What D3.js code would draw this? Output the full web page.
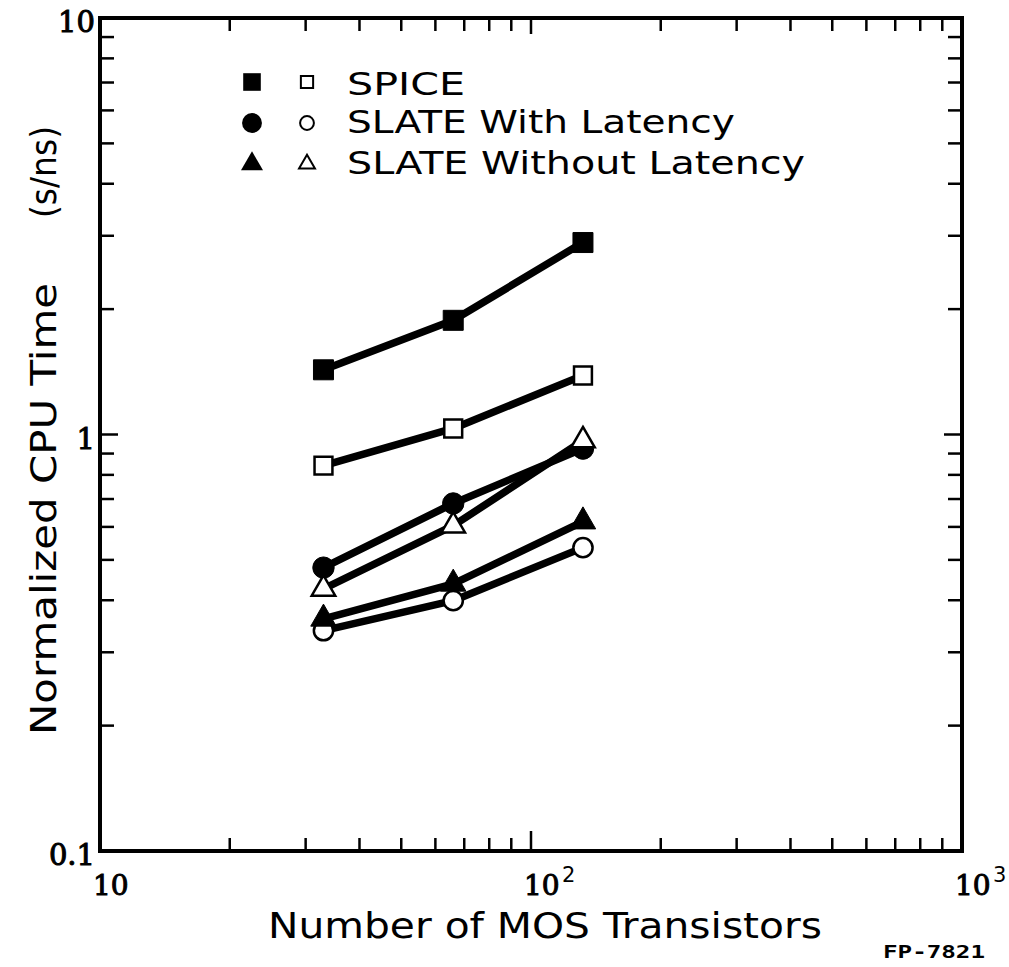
<!DOCTYPE html>
<html>
<head>
<meta charset="utf-8">
<script src="https://cdn.jsdelivr.net/npm/d3@7"></script>
<style>
  html, body { margin: 0; padding: 0; background: #fff; }
  svg { display: block; }
</style>
</head>
<body>
<svg id="chart" width="1009" height="967"></svg>
<script>
// ---- data ----
const transistors = [33, 66, 132];
const spiceFilled = [1.43, 1.88, 2.89];
const spiceOpen = [0.842, 1.034, 1.386];
const latencyFilled = [0.479, 0.683, 0.925];
const latencyOpen = [0.338, 0.399, 0.535];
const noLatencyFilled = [0.361, 0.438, 0.618];
const noLatencyOpen = [0.426, 0.604, 0.967];

const legendLabels = ["SPICE", "SLATE With Latency", "SLATE Without Latency"];
const yTickLabels = ["0.1", "1", "10"];
const xTickLabels = ["10", "10", "10"];
const xTickExponents = ["", "2", "3"];
const xTitle = "Number of MOS Transistors";
const yTitle = "Normalized CPU Time";
const yUnit = "(s/ns)";
const figureCode = "FP-7821";

// ---- layout ----
const svg = d3.select("#chart");
const mLeft = 100, mRight = 962, mTop = 18, mBottom = 851;

const x = d3.scaleLog().domain([10, 1000]).range([mLeft, mRight]);
const y = d3.scaleLog().domain([0.1, 10]).range([mBottom, mTop]);

const ink = "#000";

const xMinor = [];
[10, 100].forEach(d => { for (let k = 2; k <= 9; k++) xMinor.push(d * k); });
const yMinor = [];
[0.1, 1].forEach(d => { for (let k = 2; k <= 9; k++) yMinor.push(+(d * k).toFixed(2)); });

const g = svg.append("g");

const tickW = 2.5;
function hTicks(vals, len, yPos, dir) {
  g.selectAll(null).data(vals).enter().append("line")
    .attr("x1", d => x(d)).attr("x2", d => x(d))
    .attr("y1", yPos).attr("y2", yPos + dir * len)
    .attr("stroke", ink).attr("stroke-width", tickW);
}
function vTicks(vals, len, xPos, dir) {
  g.selectAll(null).data(vals).enter().append("line")
    .attr("y1", d => y(d)).attr("y2", d => y(d))
    .attr("x1", xPos).attr("x2", xPos + dir * len)
    .attr("stroke", ink).attr("stroke-width", tickW);
}
hTicks(xMinor, 13, mBottom, -1);
hTicks([100], 20, mBottom, -1);
hTicks(xMinor, 13, mTop, 1);
hTicks([100], 16, mTop, 1);
vTicks(yMinor, 14, mLeft, 1);
vTicks([1], 18, mLeft, 1);
vTicks(yMinor, 14, mRight, -1);
vTicks([1], 18, mRight, -1);

g.append("rect")
  .attr("x", mLeft).attr("y", mTop)
  .attr("width", mRight - mLeft).attr("height", mBottom - mTop)
  .attr("fill", "none").attr("stroke", ink).attr("stroke-width", 4);

const tickFont = "'DejaVu Serif', serif";
g.selectAll(null).data([0.1, 1, 10]).enter().append("text")
  .attr("x", mLeft - 5).attr("y", d => y(d) + 14)
  .attr("text-anchor", "end")
  .attr("font-family", tickFont).attr("font-size", 29)
  .attr("stroke", ink).attr("stroke-width", 1)
  .attr("fill", ink)
  .text((d, i) => yTickLabels[i]);

const xTicksAt = [10, 100, 1000];
g.selectAll(null).data(xTicksAt).enter().append("text")
  .attr("x", d => x(d) - 7).attr("y", 895)
  .attr("font-family", tickFont).attr("font-size", 28)
  .attr("stroke", ink).attr("stroke-width", 1)
  .attr("fill", ink)
  .text((d, i) => xTickLabels[i]);
g.selectAll(null).data(xTicksAt.slice(1)).enter().append("text")
  .attr("x", d => x(d) + 31).attr("y", 882)
  .attr("font-family", "'DejaVu Sans', sans-serif").attr("font-size", 21)
  .attr("fill", ink)
  .text((d, i) => xTickExponents[i + 1]);

const titleFont = "'DejaVu Sans', sans-serif";
svg.append("text")
  .attr("x", 268).attr("y", 938)
  .attr("font-family", titleFont).attr("font-size", 36)
  .attr("textLength", 554).attr("lengthAdjust", "spacingAndGlyphs")
  .attr("fill", ink).text(xTitle);

svg.append("text")
  .attr("transform", "translate(56,735) rotate(-90)")
  .attr("font-family", titleFont).attr("font-size", 36)
  .attr("textLength", 452).attr("lengthAdjust", "spacingAndGlyphs")
  .attr("fill", ink).text(yTitle);
svg.append("text")
  .attr("transform", "translate(56,218) rotate(-90)")
  .attr("font-family", titleFont).attr("font-size", 36)
  .attr("textLength", 92).attr("lengthAdjust", "spacingAndGlyphs")
  .attr("fill", ink).text(yUnit);

svg.append("text")
  .attr("x", 985).attr("y", 958).attr("text-anchor", "end")
  .attr("font-family", "'DejaVu Sans Mono', monospace").attr("font-size", 17)
  .attr("textLength", 102).attr("lengthAdjust", "spacingAndGlyphs")
  .attr("font-weight", "bold").attr("fill", ink).text(figureCode);

// ---- series ----
const series = [
  { values: spiceFilled, shape: d3.symbolSquare, filled: true },
  { values: spiceOpen, shape: d3.symbolSquare, filled: false },
  { values: latencyFilled, shape: d3.symbolCircle, filled: true },
  { values: latencyOpen, shape: d3.symbolCircle, filled: false },
  { values: noLatencyFilled, shape: d3.symbolTriangle, filled: true },
  { values: noLatencyOpen, shape: d3.symbolTriangle, filled: false }
];

const line = d3.line().x(d => x(d[0])).y(d => y(d[1]));

const lines = svg.append("g");
series.forEach(s => {
  lines.append("path")
    .datum(transistors.map((t, i) => [t, s.values[i]]))
    .attr("d", line)
    .attr("fill", "none").attr("stroke", ink)
    .attr("stroke-width", 7.5).attr("stroke-linejoin", "round");
});

function symbolSize(shape, filled) {
  if (shape === d3.symbolSquare) return filled ? 400 : 320;
  if (shape === d3.symbolCircle) return filled ? 360 : 290;
  return filled ? 280 : 240;
}

const marks = svg.append("g");
series.forEach(s => {
  marks.selectAll(null)
    .data(transistors.map((t, i) => [t, s.values[i]]))
    .enter().append("path")
    .attr("transform", d => `translate(${x(d[0])},${y(d[1])})`)
    .attr("d", d3.symbol().type(s.shape).size(symbolSize(s.shape, s.filled)))
    .attr("fill", s.filled ? ink : "#fff")
    .attr("stroke", ink).attr("stroke-width", s.filled ? 1 : 2.5);
});

// ---- legend ----
const legendShapes = [d3.symbolSquare, d3.symbolCircle, d3.symbolTriangle];
const legendMarkY = [82, 123, 164];
const legendTextY = [95, 133, 174];
const legendTextLen = [118, 388, 458];
const leg = svg.append("g");
legendLabels.forEach((lab, i) => {
  const sh = legendShapes[i];
  const fillSize = sh === d3.symbolTriangle ? 210 : 310;
  const openSize = sh === d3.symbolTriangle ? 110 : 150;
  leg.append("path")
    .attr("transform", `translate(252,${legendMarkY[i]})`)
    .attr("d", d3.symbol().type(sh).size(fillSize))
    .attr("fill", ink);
  leg.append("path")
    .attr("transform", `translate(307,${legendMarkY[i]})`)
    .attr("d", d3.symbol().type(sh).size(openSize))
    .attr("fill", "#fff").attr("stroke", ink).attr("stroke-width", 2);
  leg.append("text")
    .attr("x", 347).attr("y", legendTextY[i])
    .attr("font-family", "'DejaVu Sans', sans-serif").attr("font-size", 32)
    .attr("textLength", legendTextLen[i]).attr("lengthAdjust", "spacingAndGlyphs")
    .attr("fill", ink).text(lab);
});
</script>
</body>
</html>
